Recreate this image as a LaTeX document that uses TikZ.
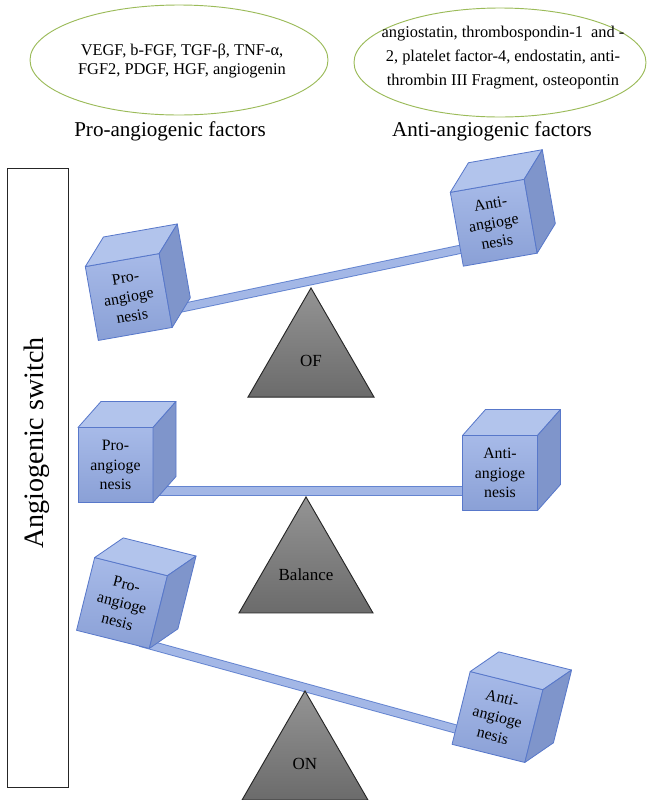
\documentclass[tikz,border=0pt]{standalone}
\usepackage{fontspec}
\setmainfont{Liberation Serif}
\usetikzlibrary{shapes.geometric, positioning}

\definecolor{cubeedge}{HTML}{5878CA}
\definecolor{cubefronthi}{HTML}{A7BAE8}
\definecolor{cubefrontlo}{HTML}{8AA0D6}
\definecolor{cubetop}{HTML}{B2C4EC}
\definecolor{cubeside}{HTML}{7F95CB}
\definecolor{beamfill}{HTML}{A3B7E6}
\definecolor{beamedge}{HTML}{6484D0}
\definecolor{ellgreen}{HTML}{9BBB59}

\begin{document}
\begin{tikzpicture}[
    x=0.03cm, y=-0.03cm,
    factorell/.style = {
        ellipse, draw=ellgreen, line width=0.8pt,
        minimum width=8.94cm, minimum height=3.3cm
    },
    factortxt/.style = {align=center, inner sep=0pt, font=\fontsize{14}{16.5}\selectfont},
    factorlbl/.style = {inner sep=0pt, font=\fontsize{18}{20}\selectfont},
    switchbox/.style = {
        rectangle, draw=black!85, line width=0.8pt,
        minimum width=1.83cm, minimum height=18.57cm
    },
    switchlbl/.style = {rotate=90, inner sep=0pt, font=\fontsize{24}{26}\selectfont},
    cubeface/.style = {draw=cubeedge, line width=0.7pt, line join=round},
    cubetext/.style = {
        align=center, inner sep=0pt, transform shape,
        font=\fontsize{13.5}{16.5}\selectfont
    },
    beam/.style = {draw=beamedge, line width=0.8pt, double=beamfill, double distance=6.2pt},
    fulcrum/.style = {
        regular polygon, regular polygon sides=3, minimum size=4.37cm,
        inner sep=0pt, anchor=corner 1, draw=black!85, line width=0.8pt,
        top color=black!42, bottom color=black!58,
        font=\fontsize{14.5}{17}\selectfont
    },
    pics/cube/.style = {code={
        \draw[cubeface, top color=cubefronthi, bottom color=cubefrontlo]
            (-37.5,-37.5) rectangle (37.5,37.5);
        \draw[cubeface, fill=cubetop]
            (-37.5,-37.5) -- (-14.5,-63.5) -- (60.5,-63.5) -- (37.5,-37.5) -- cycle;
        \draw[cubeface, fill=cubeside]
            (37.5,-37.5) -- (60.5,-63.5) -- (60.5,11.5) -- (37.5,37.5) -- cycle;
        \node[cubetext] (-t) at (0,0) {#1};
    }},
]

\useasboundingbox (0,0) rectangle (647,800);

% factor groups
\node[factorell] (proell) at (179,60) {};
\node[factortxt] (protxt) at (182,61)
    {VEGF, b-FGF, TGF-β, TNF-α,\\FGF2, PDGF, HGF, angiogenin};
\node[factorell, minimum width=8.76cm, minimum height=3.27cm] (antiell) at (500,62.5) {};
\node[factortxt, font=\fontsize{14}{20.5}\selectfont] (antitxt) at (503,58)
    {angiostatin, thrombospondin-1\ \ and -\\2, platelet factor-4, endostatin, anti-\\thrombin III Fragment, osteopontin};
\node[factorlbl] (prolbl) at (170,131) {Pro-angiogenic factors};
\node[factorlbl] (antilbl) at (492,131) {Anti-angiogenic factors};

% side label
\node[switchbox] (switch) at (37.5,477.5) {};
\node[switchlbl] (switchtxt) at (37,443) {Angiogenic switch};

% beams
\coordinate (beam1l) at (160,312.4);
\coordinate (beam1r) at (470,247.3);
\coordinate (beam2l) at (130,491);
\coordinate (beam2r) at (490,491);
\coordinate (beam3l) at (140,642.2);
\coordinate (beam3r) at (470,732.9);
\draw[beam] (beam1l) -- (beam1r);
\draw[beam] (beam2l) -- (beam2r);
\draw[beam] (beam3l) -- (beam3r);

% cubes
\pic[rotate=10] (pro1) at (128.75,297) {cube={Pro-\\angioge\\nesis}};
\pic[rotate=10] (anti1) at (493.75,222.75) {cube={Anti-\\angioge\\nesis}};
\pic (pro2) at (115.5,465) {cube={Pro-\\angioge\\nesis}};
\pic (anti2) at (500,473) {cube={Anti-\\angioge\\nesis}};
\pic[rotate=-14] (pro3) at (122,603) {cube={Pro-\\angioge\\nesis}};
\pic[rotate=-14] (anti3) at (497.5,717) {cube={Anti-\\angioge\\nesis}};

% fulcrums
\node[fulcrum] (of) at (311,287) {OF};
\node[fulcrum] (balance) at (306,496) {Balance};
\node[fulcrum] (on) at (305,690) {ON};

\end{tikzpicture}
\end{document}
